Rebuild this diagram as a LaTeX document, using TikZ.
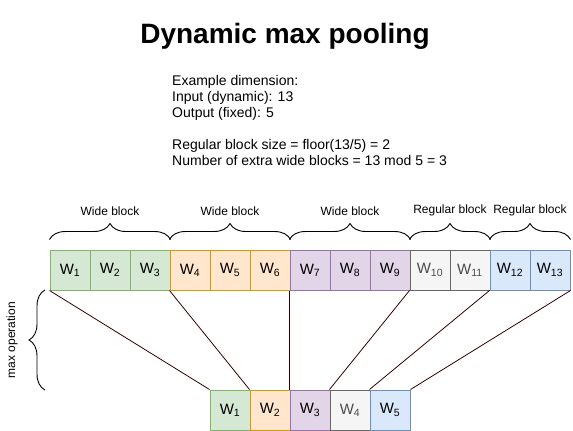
\documentclass[tikz,border=0pt]{standalone}
\usepackage{fontspec}
\setmainfont{Liberation Sans}
\usetikzlibrary{decorations.pathreplacing}

\definecolor{grnfill}{HTML}{D5E8D4}\definecolor{grnline}{HTML}{82B366}
\definecolor{orafill}{HTML}{FFE6CC}\definecolor{oraline}{HTML}{D79B00}
\definecolor{purfill}{HTML}{E1D5E7}\definecolor{purline}{HTML}{9673A6}
\definecolor{gryfill}{HTML}{F5F5F5}\definecolor{gryline}{HTML}{666666}
\definecolor{blufill}{HTML}{DAE8FC}\definecolor{bluline}{HTML}{6C8EBF}
\definecolor{maxline}{HTML}{330000}

\tikzset{
  cell/.style={draw,line width=1pt,minimum width=40pt,minimum height=40pt,inner sep=0pt,font=\fontsize{15}{17}\selectfont},
  grncell/.style={cell,fill=grnfill,draw=grnline},
  oracell/.style={cell,fill=orafill,draw=oraline},
  purcell/.style={cell,fill=purfill,draw=purline},
  grycell/.style={cell,fill=gryfill,draw=gryline,text=black!70},
  blucell/.style={cell,fill=blufill,draw=bluline},
  blockbrace/.style={decorate,decoration={brace,amplitude=16pt},line width=0.9pt},
  blocklabel/.style={font=\fontsize{12}{14}\selectfont},
  maxlink/.style={maxline,line width=0.8pt}
}

\begin{document}
\begin{tikzpicture}[x=1pt,y=-1pt]
			\useasboundingbox (0,0) rectangle (573,431);
			
			\node [font=\fontsize{28}{32}\selectfont\bfseries] (title) at (285,36) {Dynamic max pooling};
			\node [anchor=north west,align=left,inner sep=0pt,font=\fontsize{14}{16}\selectfont] (info) at (172,75)
				{Example dimension:\\Input (dynamic): 13\\Output (fixed): 5\\[16pt]Regular block size = floor(13/5) = 2\\Number of extra wide blocks = 13 mod 5 = 3};
			
			% input row
			\node [grncell] (t1) at (70,270) {W\textsubscript{1}};
			\node [grncell] (t2) at (110,270) {W\textsubscript{2}};
			\node [grncell] (t3) at (150,270) {W\textsubscript{3}};
			\node [oracell] (t4) at (190,270) {W\textsubscript{4}};
			\node [oracell] (t5) at (230,270) {W\textsubscript{5}};
			\node [oracell] (t6) at (270,270) {W\textsubscript{6}};
			\node [purcell] (t7) at (310,270) {W\textsubscript{7}};
			\node [purcell] (t8) at (350,270) {W\textsubscript{8}};
			\node [purcell] (t9) at (390,270) {W\textsubscript{9}};
			\node [grycell] (t10) at (430,270) {W\textsubscript{10}};
			\node [grycell] (t11) at (470,270) {W\textsubscript{11}};
			\node [blucell] (t12) at (510,270) {W\textsubscript{12}};
			\node [blucell] (t13) at (550,270) {W\textsubscript{13}};
			
			% output row
			\node [grncell] (b1) at (230,410) {W\textsubscript{1}};
			\node [oracell] (b2) at (270,410) {W\textsubscript{2}};
			\node [purcell] (b3) at (310,410) {W\textsubscript{3}};
			\node [grycell] (b4) at (350,410) {W\textsubscript{4}};
			\node [blucell] (b5) at (390,410) {W\textsubscript{5}};
			
			% block braces
			\draw[blockbrace] ([yshift=10pt]t1.north west) -- ([yshift=10pt]t3.north east) node [midway,above=20pt,blocklabel] (lw1) {Wide block};
			\draw[blockbrace] ([yshift=10pt]t4.north west) -- ([yshift=10pt]t6.north east) node [midway,above=20pt,blocklabel] (lw2) {Wide block};
			\draw[blockbrace] ([yshift=10pt]t7.north west) -- ([yshift=10pt]t9.north east) node [midway,above=20pt,blocklabel] (lw3) {Wide block};
			\draw[blockbrace] ([yshift=10pt]t10.north west) -- ([yshift=10pt]t11.north east) node [midway,above=20pt,blocklabel] (lr1) {Regular block};
			\draw[blockbrace] ([yshift=10pt]t12.north west) -- ([yshift=10pt]t13.north east) node [midway,above=20pt,blocklabel] (lr2) {Regular block};
			
			\draw[blockbrace] (45,390) coordinate (mb) -- (45,290) coordinate (mt);
			\node [blocklabel,rotate=90] (lmax) at (12,340) {max operation};
			
			% max links
			\draw[maxlink] (t1.south west) -- (b1.north west);
			\draw[maxlink] (t4.south west) -- (b2.north west);
			\draw[maxlink] (t7.south west) -- (b3.north west);
			\draw[maxlink] (t10.south west) -- (b4.north west);
			\draw[maxlink] (t12.south west) -- (b5.north west);
			\draw[maxlink] (t13.south east) -- (b5.north east);
		\end{tikzpicture}
\end{document}
